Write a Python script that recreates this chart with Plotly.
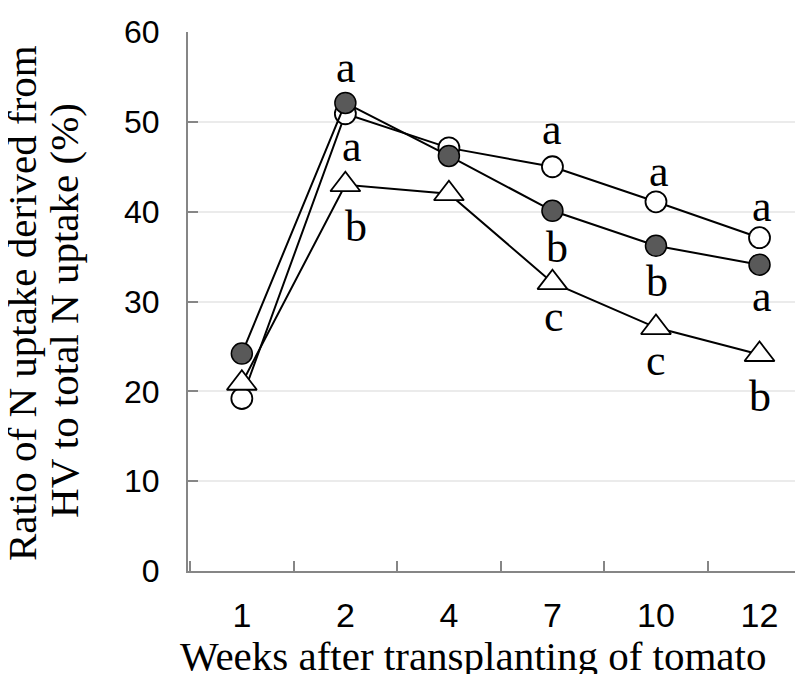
import plotly.graph_objects as go

weeks = ["1", "2", "4", "7", "10", "12"]
open_circle = [19.2, 50.9, 47.1, 45.0, 41.1, 37.1]
filled_circle = [24.2, 52.1, 46.2, 40.1, 36.2, 34.1]
open_triangle = [20.9, 43.0, 42.0, 32.1, 27.1, 24.1]

# significance letters: (week, value position, letter, x shift px)
letter_weeks = ["2", "2", "2", "7", "7", "7", "10", "10", "10", "12", "12", "12"]
letter_vals = [56.0, 47.2, 38.4, 49.2, 36.0, 28.3, 44.5, 32.2, 23.4, 40.6, 30.6, 19.4]
letter_text = ["a", "a", "b", "a", "b", "c", "a", "b", "c", "a", "a", "b"]
letter_dx = [1, 7, 11, 0, 5, 2, 3, 1, 0, 2, 2, 0]

y_ticks = [0, 10, 20, 30, 40, 50, 60]

AX = "#868686"
GRID = "#ebebeb"
SERIF = "Liberation Serif"
SANS = "Liberation Sans"

fig = go.Figure()
fig.add_trace(go.Scatter(
    x=weeks, y=open_circle, mode="lines+markers",
    line=dict(color="black", width=2),
    marker=dict(symbol="circle", size=21, color="white",
                line=dict(color="black", width=1.8)),
    showlegend=False))
fig.add_trace(go.Scatter(
    x=weeks, y=open_triangle, mode="lines+markers",
    line=dict(color="black", width=2),
    marker=dict(symbol="triangle-up", size=26, color="white",
                line=dict(color="black", width=1.8)),
    showlegend=False))
fig.add_trace(go.Scatter(
    x=weeks, y=filled_circle, mode="lines+markers",
    line=dict(color="black", width=2),
    marker=dict(symbol="circle", size=21, color="#595959",
                line=dict(color="black", width=1.5)),
    showlegend=False))

for wk, v, t, dx in zip(letter_weeks, letter_vals, letter_text, letter_dx):
    fig.add_annotation(x=weeks.index(wk), y=v, text=t, showarrow=False, xshift=dx,
                       xanchor="center", yanchor="middle",
                       font=dict(family=SERIF, size=44, color="black"))

# axis titles
fig.add_annotation(xref="paper", yref="paper", x=-0.270, y=0.497,
                   text="Ratio of N uptake derived from", textangle=-90,
                   showarrow=False, xanchor="center", yanchor="middle",
                   font=dict(family=SERIF, size=41, color="black"))
fig.add_annotation(xref="paper", yref="paper", x=-0.202, y=0.484,
                   text="HV to total N uptake (%)", textangle=-90,
                   showarrow=False, xanchor="center", yanchor="middle",
                   font=dict(family=SERIF, size=41, color="black"))
fig.add_annotation(xref="paper", yref="paper", x=0.463, y=-0.157,
                   text="Weeks after transplanting of tomato",
                   showarrow=False, xanchor="center", yanchor="middle",
                   font=dict(family=SERIF, size=41, color="black"))

# page body has an 8px default margin: shrink the figure to fit the window
fig.update_layout(
    width=795, height=666,
    margin=dict(l=180, r=0, t=24, b=103),
    paper_bgcolor="white", plot_bgcolor="white",
    xaxis=dict(type="category", categoryorder="array", categoryarray=weeks,
               range=[-0.52, 5.42], showline=True, linecolor=AX, linewidth=2,
               ticks="inside", tickson="boundaries", ticklen=10, tickwidth=2,
               tickcolor=AX, showgrid=False, zeroline=False,
               tickfont=dict(family=SANS, size=34, color="black"),
               ticklabelstandoff=13),
    yaxis=dict(range=[0, 60], tickvals=y_ticks, showline=True, linecolor=AX,
               linewidth=2, ticks="inside", ticklen=10, tickwidth=2,
               tickcolor=AX, showgrid=True, gridcolor=GRID, gridwidth=2,
               zeroline=False,
               tickfont=dict(family=SANS, size=32, color="black"),
               ticklabelstandoff=20),
)

fig.write_html("out.html")
